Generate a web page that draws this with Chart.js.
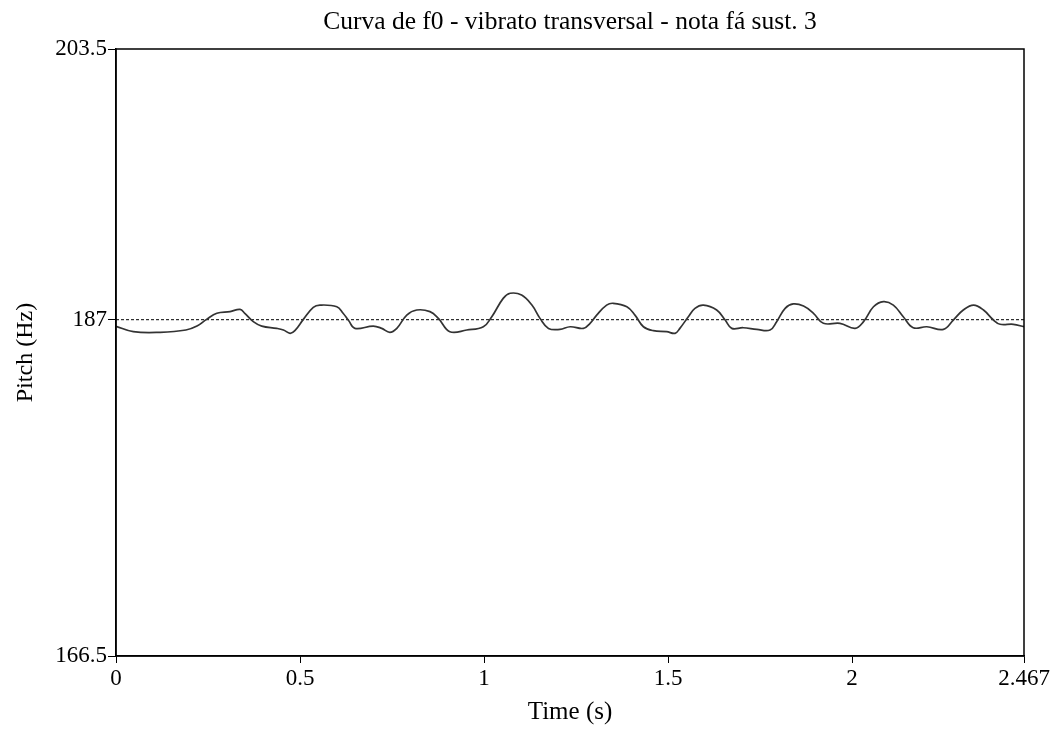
<!DOCTYPE html>
<html>
<head>
<meta charset="utf-8">
<script src="https://cdn.jsdelivr.net/npm/chart.js@4"></script>
<style>
  html, body { margin: 0; padding: 0; background: #fff; }
  #wrap { width: 1058px; height: 729px; }
</style>
</head>
<body>
<div id="wrap"><canvas id="graficaF0"></canvas></div>
<script>
// datos
const tiempos = [
  0.0, 0.047, 0.12, 0.19, 0.22, 0.246, 0.274, 0.31, 0.337, 0.35, 0.373, 0.396,
  0.437, 0.455, 0.473, 0.486, 0.509, 0.536, 0.554, 0.6, 0.617, 0.632, 0.649,
  0.699, 0.722, 0.744, 0.763, 0.79, 0.817, 0.853, 0.876, 0.907, 0.953, 0.998,
  1.021, 1.052, 1.071, 1.102, 1.13, 1.152, 1.175, 1.206, 1.234, 1.27, 1.288,
  1.306, 1.333, 1.351, 1.388, 1.41, 1.433, 1.46, 1.496, 1.519, 1.532, 1.555,
  1.573, 1.596, 1.632, 1.655, 1.673, 1.704, 1.741, 1.777, 1.795, 1.818, 1.84,
  1.868, 1.895, 1.922, 1.967, 2.008, 2.031, 2.058, 2.085, 2.112, 2.139, 2.166,
  2.203, 2.248, 2.275, 2.302, 2.33, 2.357, 2.384, 2.402, 2.438, 2.467
];
const pitch = [
  186.6, 186.27, 186.23, 186.37, 186.61, 187.02, 187.39, 187.49, 187.63, 187.39, 186.88, 186.61,
  186.47, 186.37, 186.17, 186.33, 187.02, 187.75, 187.89, 187.79, 187.39, 186.95, 186.47,
  186.61, 186.47, 186.23, 186.47, 187.28, 187.59, 187.49, 187.08, 186.27, 186.37, 186.57,
  187.18, 188.3, 188.61, 188.5, 187.89, 187.08, 186.47, 186.41, 186.57, 186.47, 186.78,
  187.28, 187.89, 188.0, 187.79, 187.28, 186.57, 186.33, 186.27, 186.17, 186.47, 187.18,
  187.69, 187.89, 187.59, 186.98, 186.47, 186.51, 186.41, 186.37, 186.88, 187.69, 187.96,
  187.83, 187.39, 186.78, 186.78, 186.47, 186.88, 187.79, 188.1, 187.89, 187.18, 186.51,
  186.57, 186.41, 186.98, 187.59, 187.89, 187.59, 186.98, 186.72, 186.72, 186.57
];
const referencia = 187;
const ticksX = [0, 0.5, 1, 1.5, 2, 2.467];
const ticksY = [166.5, 187, 203.5];

const fuente = "'Liberation Serif', 'Times New Roman', serif";

// marco alrededor del área de la gráfica
const marco = {
  id: "marco",
  afterDraw(chart) {
    const a = chart.chartArea;
    const ctx = chart.ctx;
    ctx.save();
    ctx.strokeStyle = "#000";
    ctx.lineWidth = 1.5;
    ctx.strokeRect(a.left, a.top, a.right - a.left, a.bottom - a.top);
    ctx.restore();
  },
};

const ctx = document.getElementById("graficaF0").getContext("2d");
const grafica = new Chart(ctx, {
  type: "line",
  data: {
    datasets: [
      {
        label: "f0",
        data: tiempos.map((t, i) => ({ x: t, y: pitch[i] })),
        borderColor: "#333",
        borderWidth: 1.7,
        pointRadius: 0,
        tension: 0.4,
        fill: false,
      },
      {
        label: "referencia",
        data: [
          { x: ticksX[0], y: referencia },
          { x: ticksX[ticksX.length - 1], y: referencia },
        ],
        borderColor: "#000",
        borderWidth: 1,
        borderDash: [3, 2],
        pointRadius: 0,
        fill: false,
      },
    ],
  },
  options: {
    responsive: true,
    maintainAspectRatio: false,
    animation: false,
    layout: { padding: { left: 0, right: 34, top: 0, bottom: 0 } },
    scales: {
      x: {
        type: "linear",
        min: ticksX[0],
        max: ticksX[ticksX.length - 1],
        afterBuildTicks: (s) => { s.ticks = ticksX.map((v) => ({ value: v })); },
        afterFit: (s) => { s.height = 73; },
        ticks: {
          color: "#000",
          font: { family: fuente, size: 23 },
          padding: 2,
          maxRotation: 0,
          autoSkip: false,
          callback: (v) => String(v),
        },
        grid: { drawOnChartArea: false, drawTicks: true, tickLength: 7, color: "#000" },
        border: { display: true, color: "#000", width: 1.5 },
        title: {
          display: true,
          text: "Time (s)",
          color: "#000",
          font: { family: fuente, size: 25 },
          padding: { top: 0, bottom: 2 },
        },
      },
      y: {
        min: ticksY[0],
        max: ticksY[ticksY.length - 1],
        afterBuildTicks: (s) => { s.ticks = ticksY.map((v) => ({ value: v })); },
        afterFit: (s) => { s.width = 116; },
        ticks: {
          color: "#000",
          font: { family: fuente, size: 23 },
          padding: 1,
          autoSkip: false,
          callback: (v) => String(v),
        },
        grid: { drawOnChartArea: false, drawTicks: true, tickLength: 8, color: "#000" },
        border: { display: true, color: "#000", width: 1.5 },
        title: {
          display: true,
          text: "Pitch (Hz)",
          color: "#000",
          font: { family: fuente, size: 24 },
          padding: { top: 11, bottom: 0 },
        },
      },
    },
    plugins: {
      legend: { display: false },
      tooltip: { enabled: false },
      title: {
        display: true,
        fullSize: false,
        text: "Curva de f0 - vibrato transversal - nota fá sust. 3",
        color: "#000",
        font: { family: fuente, size: 25.5, weight: "normal" },
        padding: { top: 7, bottom: 11.4 },
      },
    },
  },
  plugins: [marco],
});
</script>
</body>
</html>
